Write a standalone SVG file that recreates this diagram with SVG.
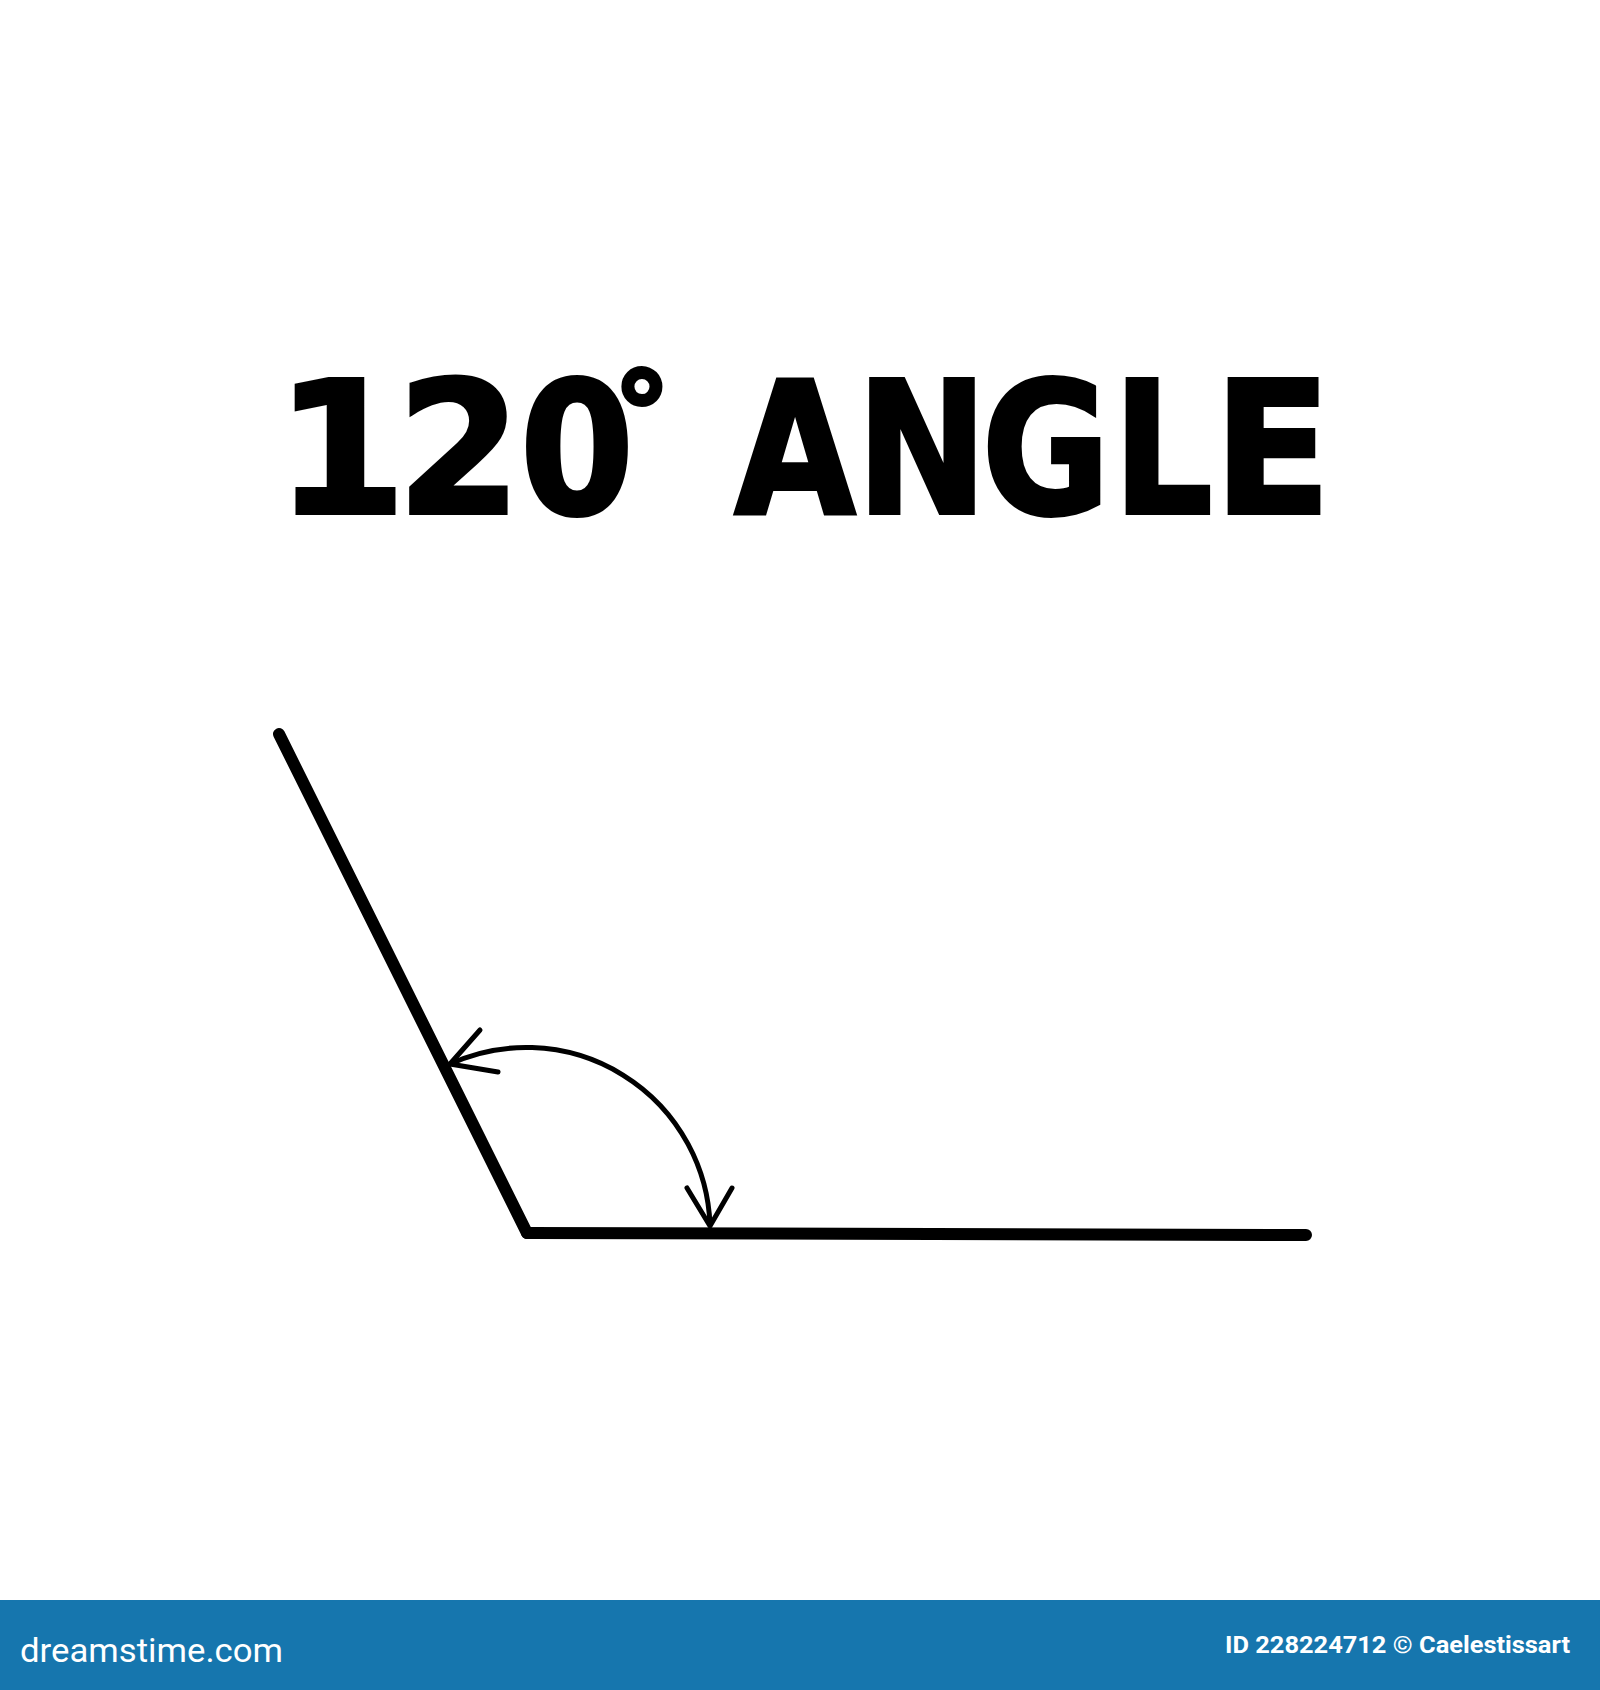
<svg xmlns="http://www.w3.org/2000/svg" width="1600" height="1690" viewBox="0 0 1600 1690">
  <style>
    .title { font-family: "DejaVu Sans", "Liberation Sans", sans-serif; font-weight: bold; font-size: 184px; fill: #000; stroke: #000; stroke-width: 4; stroke-linejoin: miter; text-anchor: middle; }
    .ray { stroke: #000; stroke-width: 12; stroke-linecap: round; stroke-linejoin: round; fill: none; }
    .arc { stroke: #000; stroke-width: 5; stroke-linecap: round; stroke-linejoin: round; fill: none; }
    .barText { fill: #fff; font-family: Roboto, "Liberation Sans", sans-serif; }
  </style>
  <rect x="0" y="0" width="1600" height="1690" fill="#fff"/>
  <g id="title">
    <text class="title" transform="scale(0.85,1)"><tspan x="401" y="513" textLength="154" lengthAdjust="spacingAndGlyphs">1</tspan><tspan x="540" y="513" textLength="146" lengthAdjust="spacingAndGlyphs">2</tspan><tspan x="678.8" y="513" textLength="134" lengthAdjust="spacingAndGlyphs">0</tspan><tspan x="755.3" y="453" font-size="113" textLength="67" lengthAdjust="spacingAndGlyphs">°</tspan><tspan x="860" y="513"> </tspan><tspan x="935.3" y="513">A</tspan><tspan x="1084.7" y="513">N</tspan><tspan x="1230.6" y="513">G</tspan><tspan x="1368" y="513">L</tspan><tspan x="1497" y="513" textLength="138" lengthAdjust="spacingAndGlyphs">E</tspan></text>
  </g>
  <g id="angle">
    <path id="ray-left" class="ray" d="M279 734 L527 1233"/>
    <path id="ray-base" class="ray" d="M527 1233 L1306 1235"/>
  </g>
  <g id="connectors">
    <path class="arc" d="M450 1064 A184 184 0 0 1 710 1225"/>
    <path class="arc" d="M480 1030 L450 1064 L498 1072"/>
    <path class="arc" d="M687 1188 L710 1226 L732 1188"/>
  </g>
  <g id="footer">
    <rect x="0" y="1600" width="1600" height="90" fill="#1676ae"/>
    <text class="barText" x="20" y="1662" font-size="34" textLength="263" lengthAdjust="spacingAndGlyphs">dreamstime.com</text>
    <text class="barText" x="1225" y="1653" font-size="24" font-weight="bold" textLength="345" lengthAdjust="spacingAndGlyphs">ID 228224712 © Caelestissart</text>
  </g>
</svg>
